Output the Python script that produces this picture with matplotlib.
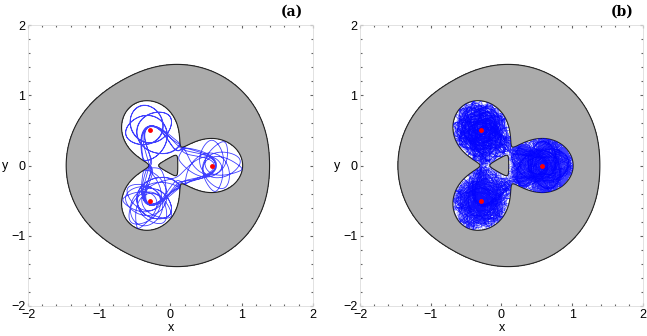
import math
import numpy as np
import matplotlib
matplotlib.use("Agg")
import matplotlib.pyplot as plt
from matplotlib.ticker import MultipleLocator

# three equal primaries at the vertices of an equilateral triangle (side 1)
mass = [1 / 3, 1 / 3, 1 / 3]
prim_x = [1 / math.sqrt(3), -0.5 / math.sqrt(3), -0.5 / math.sqrt(3)]
prim_y = [0.0, 0.5, -0.5]
omega_level = 1.757          # Omega on the zero-velocity curve (C = 2*Omega)
# orbit starts: x, y, direction of velocity (deg)
start_a = (0.2, 0.25, 210.0)
starts_b = [(0.2, 0.25, 210.0), (0.577, -0.25, 0.0), (0.8, 0.0, 180.0),
            (-0.1, 0.3, 120.0)]
t_short = 90.0               # panel (a)
t_long = 420.0               # each orbit in panel (b)
ticks = [-2, -1, 0, 1, 2]
tick_labels = ["\u22122", "\u22121", "0", "1", "2"]


def omega(x, y):
    val = 0.5 * (x * x + y * y)
    for m, px, py in zip(mass, prim_x, prim_y):
        val = val + m / np.sqrt((x - px) ** 2 + (y - py) ** 2)
    return val


def accel(x, y, vx, vy):
    ax_ = x + 2 * vy
    ay_ = y - 2 * vx
    rmin = 10.0
    for m, px, py in zip(mass, prim_x, prim_y):
        dx, dy = x - px, y - py
        r2 = dx * dx + dy * dy
        r = math.sqrt(r2)
        if r < rmin:
            rmin = r
        f = m / (r2 * r)
        ax_ -= f * dx
        ay_ -= f * dy
    return ax_, ay_, rmin


def integrate(start, t_end, h=0.01):
    # RK4, step shrinks near the primaries; stop if the Jacobi constant drifts
    x, y, ang = start
    v = math.sqrt(2 * omega(x, y) - 2 * omega_level)
    vx = v * math.cos(math.radians(ang))
    vy = v * math.sin(math.radians(ang))
    xs, ys = [x], [y]
    t = 0.0
    step = 0
    while t < t_end:
        a1x, a1y, rmin = accel(x, y, vx, vy)
        dt = h * min(1.0, (rmin / 0.25) ** 1.5)
        k2x, k2y = vx + 0.5 * dt * a1x, vy + 0.5 * dt * a1y
        a2x, a2y, _ = accel(x + 0.5 * dt * vx, y + 0.5 * dt * vy, k2x, k2y)
        k3x, k3y = vx + 0.5 * dt * a2x, vy + 0.5 * dt * a2y
        a3x, a3y, _ = accel(x + 0.5 * dt * k2x, y + 0.5 * dt * k2y, k3x, k3y)
        k4x, k4y = vx + dt * a3x, vy + dt * a3y
        a4x, a4y, _ = accel(x + dt * k3x, y + dt * k3y, k4x, k4y)
        x += dt / 6 * (vx + 2 * k2x + 2 * k3x + k4x)
        y += dt / 6 * (vy + 2 * k2y + 2 * k3y + k4y)
        vx += dt / 6 * (a1x + 2 * a2x + 2 * a3x + a4x)
        vy += dt / 6 * (a1y + 2 * a2y + 2 * a3y + a4y)
        t += dt
        step += 1
        if step % 50 == 0:
            jac = 2 * omega(x, y) - vx * vx - vy * vy
            if abs(jac - 2 * omega_level) > 0.01:
                break
        xs.append(x)
        ys.append(y)
    return np.array(xs), np.array(ys)


orbit_a = [integrate(start_a, t_short)]
orbits_b = [integrate(s, t_long) for s in starts_b]

gx = np.linspace(-2, 2, 1001)
GX, GY = np.meshgrid(gx, gx)
GO = omega(GX + 1e-9, GY + 1e-9)

fig = plt.figure(figsize=(6.47, 3.36), dpi=100)
boxes = [[28 / 647, 30 / 336, 285 / 647, 281 / 336],
         [360 / 647, 30 / 336, 283 / 647, 281 / 336]]
panels = [(orbit_a, 0.6, 0.75), (orbits_b, 0.2, 0.75)]

for box, (orbs, lw, al), tag, tx, ylx in zip(boxes, panels, ["(a)", "(b)"],
                                            [292, 622], [-0.08, -0.082]):
    ax = fig.add_axes(box)
    ax.contourf(GX, GY, GO, levels=[0, omega_level], colors=["#ababab"])
    ax.contour(GX, GY, GO, levels=[omega_level], colors="#222222", linewidths=0.8)
    for ox, oy in orbs:
        ax.plot(ox, oy, color="#0000ff", lw=lw, alpha=al)
    ax.plot(prim_x, prim_y, "o", color="#ff0000", ms=3.5, mec="none")
    ax.set_xlim(-2, 2)
    ax.set_ylim(-2, 2)
    ax.set_xticks(ticks)
    ax.set_yticks(ticks)
    ax.set_xticklabels(tick_labels, family="Liberation Sans")
    ax.set_yticklabels(tick_labels, family="Liberation Sans")
    ax.xaxis.set_minor_locator(MultipleLocator(0.2))
    ax.yaxis.set_minor_locator(MultipleLocator(0.2))
    ax.tick_params(which="both", direction="in", top=True, right=True,
                   color="#666666", width=0.8, labelsize=9, pad=2)
    ax.tick_params(which="major", length=2.5)
    ax.tick_params(which="minor", length=1.5)
    for sp in ax.spines.values():
        sp.set_color("#dddddd")
        sp.set_linewidth(0.6)
    ax.set_xlabel("x", fontsize=9, labelpad=1, family="Liberation Sans")
    ax.set_ylabel("y", fontsize=9, rotation=0, va="center", family="Liberation Sans")
    ax.yaxis.set_label_coords(ylx, 0.5)
    fig.text(tx / 647, 1 - 12 / 336, tag, ha="center", va="center",
             family="DejaVu Serif", fontweight="bold", fontsize=10)

fig.savefig("out.png", dpi=100)
